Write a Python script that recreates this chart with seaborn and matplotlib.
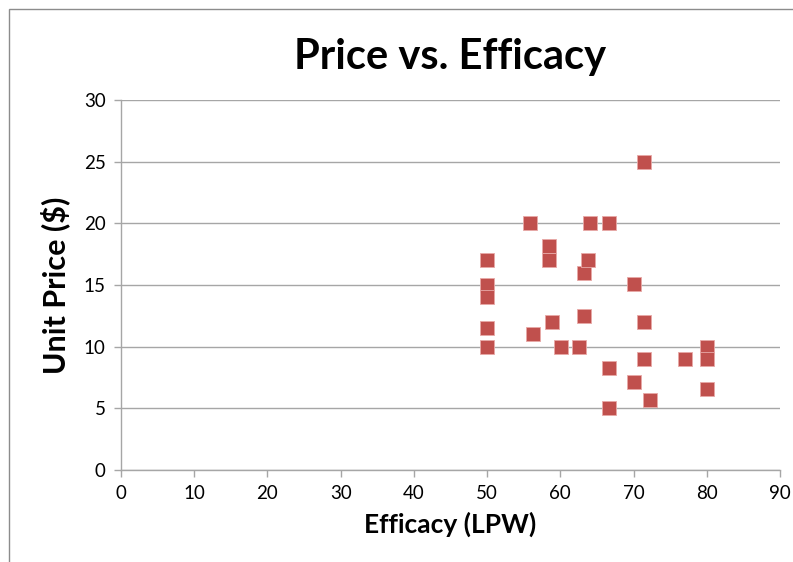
"""Price vs. Efficacy scatter, Excel-style."""
import matplotlib
matplotlib.use("Agg")
import matplotlib.pyplot as plt
from matplotlib.patches import Rectangle
import pandas as pd
import seaborn as sns

# Efficacy (LPW) and unit price ($) for each lamp
efficacy = [50, 50, 50, 50, 50, 55.9, 56.3, 58.4, 58.4, 58.9,
            60.1, 62.5, 63.2, 63.2, 63.8, 64.1, 66.7, 66.7, 66.7, 70,
            70, 71.4, 71.4, 71.4, 72.3, 77, 80, 80, 80]
unit_price = [17, 15, 14, 11.5, 10, 20, 11, 18.2, 17, 12,
              10, 10, 16, 12.5, 17, 20, 20, 8.3, 5, 15.1,
              7.1, 25, 12, 9, 5.7, 9, 10, 9, 6.6]

x_ticks = list(range(0, 91, 10))
y_ticks = list(range(0, 31, 5))

df = pd.DataFrame({'Efficacy': efficacy, 'Price': unit_price})

sns.set_theme(style='white')
plt.rcParams['font.family'] = ['Lato', 'DejaVu Sans']
plt.rcParams['text.color'] = 'black'
plt.rcParams['axes.labelcolor'] = 'black'

fig = plt.figure(figsize=(7.93, 5.62), dpi=100)
ax = fig.add_axes([0.1526, 0.1637, 0.831, 0.6583])

# chart area border (top and left edges visible in crop)
fig.add_artist(Rectangle((0.0113, -0.01), 1.2, 0.994, transform=fig.transFigure,
                         fill=False, edgecolor='#8c8c8c', linewidth=1))

sns.scatterplot(data=df, x='Efficacy', y='Price', ax=ax, marker='s', s=95,
                color='#C0504D', edgecolor='#e8a9a7', linewidth=0.6, zorder=3)

ax.set_xlim(0, 90)
ax.set_ylim(0, 30)
ax.set_xticks(x_ticks)
ax.set_yticks(y_ticks)
ax.yaxis.grid(True, color='#a6a6a6', linewidth=1)
ax.set_axisbelow(True)
for side in ['top', 'right']:
    ax.spines[side].set_visible(False)
for side in ['left', 'bottom']:
    ax.spines[side].set_color('#a6a6a6')
    ax.spines[side].set_linewidth(1)
ax.tick_params(axis='both', which='major', length=5, width=1, color='#a6a6a6',
               direction='out', labelsize=13.5, labelcolor='black', pad=6,
               bottom=True, left=True)

ax.set_xlabel('Efficacy (LPW)', fontsize=19, fontweight='bold', labelpad=7)
ax.set_ylabel('Unit Price ($)', fontsize=22, fontweight='bold', labelpad=10)
ax.set_title('Price vs. Efficacy', fontsize=30, fontweight='bold', pad=22,
             color='black')

fig.savefig('out.png', dpi=100)
